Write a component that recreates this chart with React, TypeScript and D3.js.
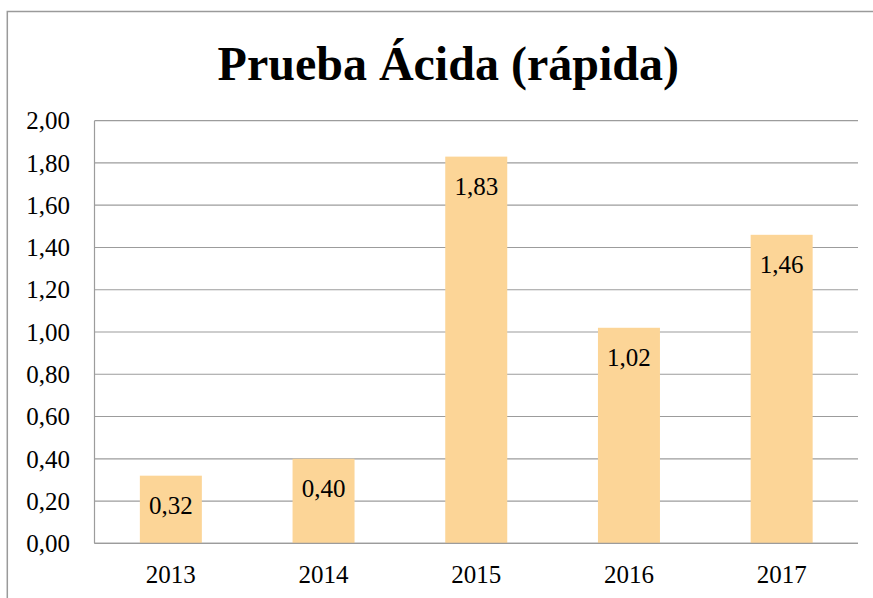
import React from "react";
import * as d3 from "d3";

const categories = ["2013", "2014", "2015", "2016", "2017"];
const values = [0.32, 0.4, 1.83, 1.02, 1.46];
const yTicks = [0, 0.2, 0.4, 0.6, 0.8, 1.0, 1.2, 1.4, 1.6, 1.8, 2.0];
const title = "Prueba Ácida (rápida)";

const W = 873;
const H = 598;
const plot = { left: 94.5, right: 858, top: 120.7, bottom: 543.3 };
const FONT_A = "Times New Roman";
const FONT_B = "Liberation Serif";
const FONT_C = "serif";

const fmt = (v: number) => v.toFixed(2).replace(".", ",");

export default function App() {
  const x = d3
    .scaleBand<string>()
    .domain(categories)
    .range([plot.left, plot.right])
    .paddingInner(0.594)
    .paddingOuter(0.297);
  const y = d3.scaleLinear().domain([0, 2]).range([plot.bottom, plot.top]);

  return (
    <svg
      width={W}
      height={H}
      style={{ position: "absolute", left: 0, top: 0, display: "block", background: "#fff" }}
    >
      <rect x={7.3} y={11.5} width={W + 20} height={H + 20} fill="#fff" stroke="#9a9a9a" strokeWidth={1.5} />
      <text
        x={(plot.left + plot.right) / 2 - 28}
        y={80}
        textAnchor="middle"
        style={{ fontFamily: FONT_B, fontWeight: "bold", fontSize: 48 }}
        fill="#000"
      >
        {title}
      </text>
      {yTicks.map((t) => (
        <g key={t}>
          <line
            x1={plot.left}
            x2={plot.right}
            y1={y(t)}
            y2={y(t)}
            stroke="#9c9c9c"
            strokeWidth={1.2}
          />
          <text
            x={70}
            y={y(t)}
            dy="0.35em"
            textAnchor="end"
            style={{ fontFamily: FONT_A, fontSize: 25 }}
            fill="#000"
          >
            {fmt(t)}
          </text>
        </g>
      ))}
      <line x1={plot.left} x2={plot.left} y1={plot.top} y2={plot.bottom} stroke="#9c9c9c" strokeWidth={1.2} />
      {categories.map((c, i) => (
        <g key={c}>
          <rect
            x={x(c)!}
            y={y(values[i])}
            width={x.bandwidth()}
            height={plot.bottom - y(values[i])}
            fill="#FCD597"
          />
          <text
            x={x(c)! + x.bandwidth() / 2}
            y={y(values[i]) + 38}
            textAnchor="middle"
            style={{ fontFamily: FONT_B, fontSize: 25 }}
            fill="#000"
          >
            {fmt(values[i])}
          </text>
          <text
            x={x(c)! + x.bandwidth() / 2}
            y={583}
            textAnchor="middle"
            style={{ fontFamily: FONT_C, fontSize: 25 }}
            fill="#000"
          >
            {c}
          </text>
        </g>
      ))}
      <line x1={plot.left} x2={plot.right} y1={plot.bottom} y2={plot.bottom} stroke="#9c9c9c" strokeWidth={1.2} />
    </svg>
  );
}
